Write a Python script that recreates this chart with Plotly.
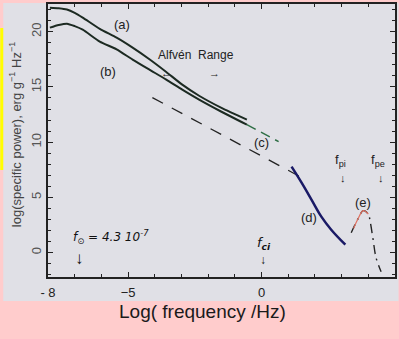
import plotly.graph_objects as go

# ---- data ----
a_x = [-7.93, -7.6, -7.29, -7.0, -6.70, -6.06, -5.43, -4.83, -4.20, -3.57, -2.97, -2.34, -1.5, -0.55]
a_y = [22.17, 22.12, 22.0, 21.7, 21.27, 20.25, 19.45, 18.55, 17.5, 16.35, 15.2, 14.2, 13.1, 12.04]
b_x = [-7.93, -7.6, -7.29, -7.0, -6.70, -6.06, -5.43, -4.83, -4.20, -3.57, -2.97, -2.34, -1.5, -0.55]
b_y = [20.36, 20.6, 20.72, 20.5, 20.18, 19.10, 18.4, 17.47, 16.56, 15.66, 14.75, 13.85, 12.75, 11.58]
b_ext_x = [-0.55, 0.64]
b_ext_y = [11.58, 10.05]
c_x = [-4.09, 1.65]
c_y = [14.03, 6.61]
d_x = [1.125, 1.50, 1.87, 2.24, 2.61, 3.14]
d_y = [7.78, 6.33, 4.80, 3.26, 2.08, 0.72]
e_x = [3.36, 3.6, 3.81, 4.0, 4.07, 4.18, 4.29, 4.48]
e_y = [1.81, 3.0, 3.80, 3.5, 2.81, 1.18, -0.45, -1.72]
e_red_x = [3.45, 3.6, 3.81, 4.0]
e_red_y = [2.2, 3.0, 3.80, 3.5]

x_tickvals = [-8, -5, 0, 5]
x_ticktext = ["- 8", "\u22125", "0", "+ 5"]
y_tickvals = [0, 5, 10, 15, 20]

PINK = "#FFCCCC"
PANEL = "#E0E0E6"
INK = "#1C2A22"

fig = go.Figure()
fig.add_trace(go.Scatter(x=a_x, y=a_y, mode="lines", line=dict(color=INK, width=2, shape="spline", smoothing=0.6), showlegend=False))
fig.add_trace(go.Scatter(x=b_x, y=b_y, mode="lines", line=dict(color=INK, width=2, shape="spline", smoothing=0.6), showlegend=False))
fig.add_trace(go.Scatter(x=b_ext_x, y=b_ext_y, mode="lines", line=dict(color="#2E6E45", width=1.5, dash="10px,6px"), showlegend=False))
fig.add_trace(go.Scatter(x=c_x, y=c_y, mode="lines", line=dict(color="#222222", width=1.3, dash="12px,10px"), showlegend=False))
fig.add_trace(go.Scatter(x=d_x, y=d_y, mode="lines", line=dict(color="#1A1A66", width=2.5, shape="spline"), showlegend=False))
fig.add_trace(go.Scatter(x=e_x, y=e_y, mode="lines", line=dict(color="#222222", width=1.4, dash="9px,5px,2px,5px", shape="spline"), showlegend=False))
fig.add_trace(go.Scatter(x=e_red_x, y=e_red_y, mode="lines", line=dict(color="#E07060", width=1.2, shape="spline"), showlegend=False))

ann_font = dict(family="Liberation Sans, Arial, sans-serif", size=13, color="#222222")
hand_font = dict(family="DejaVu Sans, sans-serif", size=13, color="#111111", style="italic")

annotations = [
    dict(x=-5.24, y=20.63, text="(a)", font=ann_font),
    dict(x=-5.77, y=16.38, text="(b)", font=ann_font),
    dict(x=-2.45, y=17.9, text="Alfv\u00e9n  Range", font=dict(family="Liberation Sans, Arial, sans-serif", size=12, color="#222222")),
    dict(x=-3.57, y=16.3, text="\u2190", font=dict(size=11, color="#222222")),
    dict(x=-1.78, y=16.3, text="\u2192", font=dict(size=11, color="#222222")),
    dict(x=0.0, y=9.95, text="(c)", font=ann_font),
    dict(x=1.76, y=3.17, text="(d)", font=ann_font),
    dict(x=3.81, y=4.52, text="(e)", font=ann_font),
    dict(x=2.95, y=8.3, text="f<sub>pi</sub>", font=ann_font),
    dict(x=3.06, y=6.8, text="\u2193", font=dict(size=11, color="#222222")),
    dict(x=4.37, y=8.3, text="f<sub>pe</sub>", font=ann_font),
    dict(x=4.48, y=6.8, text="\u2193", font=dict(size=11, color="#222222")),
    dict(x=0.08, y=0.8, text="f<sub><b>ci</b></sub>", font=hand_font),
    dict(x=0.05, y=-0.6, text="\u2193", font=dict(size=12, color="#111111")),
    dict(x=-5.65, y=1.45, text="f<sub>\u2299</sub> = 4.3 10<sup>-7</sup>", font=dict(family="DejaVu Sans, sans-serif", size=12, color="#111111", style="italic")),
    dict(x=-6.81, y=-0.4, text="<b>\u2193</b>", font=dict(size=17, color="#111111")),
]
for a in annotations:
    a.update(xref="x", yref="y", showarrow=False, xanchor="center", yanchor="middle")

annotations.append(dict(xref="paper", yref="paper", x=-0.0946, y=0.52, textangle=-90, showarrow=False,
                        xanchor="center", yanchor="middle",
                        text="log(specific power), erg g<sup>\u22121</sup> Hz<sup>\u22121</sup>",
                        font=dict(family="Liberation Sans, Arial, sans-serif", size=13, color="#444444")))
annotations.append(dict(xref="paper", yref="paper", x=0.444, y=-0.128, showarrow=False,
                        xanchor="center", yanchor="middle",
                        text="Log( frequency /Hz)",
                        font=dict(family="Liberation Sans, Arial, sans-serif", size=19, color="#1A1A1A")))

shapes = [
    dict(type="rect", xref="paper", yref="paper", x0=-0.129, x1=1.01, y0=-0.088, y1=1.004,
         fillcolor=PANEL, line=dict(width=0), layer="below"),
    dict(type="rect", xref="paper", yref="paper", x0=-0.1376, x1=-0.129, y0=0.392, y1=0.912,
         fillcolor="#FFFF00", line=dict(width=0), layer="below"),
]

fig.update_layout(
    width=399, height=339,
    margin=dict(l=48, r=2, t=4, b=62),
    paper_bgcolor=PINK, plot_bgcolor=PANEL,
    annotations=annotations, shapes=shapes,
    xaxis=dict(range=[-8, 5], tickvals=x_tickvals, ticktext=x_ticktext, ticks="inside", ticklen=5,
               tickwidth=1.2, tickcolor="#222222", showgrid=False, zeroline=False, showline=True,
               linecolor="#222222", linewidth=1.8, mirror="ticks",
               minor=dict(ticks="inside", dtick=1, tick0=0, ticklen=3, tickcolor="#222222", showgrid=False),
               tickfont=dict(family="Liberation Sans, Arial, sans-serif", size=13, color="#222222"),
               ticklabelstandoff=2),
    yaxis=dict(range=[-2.2, 22.5], tickvals=y_tickvals, ticks="inside", ticklen=5, tickangle=-90,
               tickwidth=1.2, tickcolor="#222222", showgrid=False, zeroline=False, showline=True,
               linecolor="#222222", linewidth=1.8, mirror="ticks",
               minor=dict(ticks="inside", dtick=1, tick0=0, ticklen=3, tickcolor="#222222", showgrid=False),
               tickfont=dict(family="Liberation Sans, Arial, sans-serif", size=13, color="#555555"),
               ticklabelstandoff=0),
)

fig.write_html("out.html")
